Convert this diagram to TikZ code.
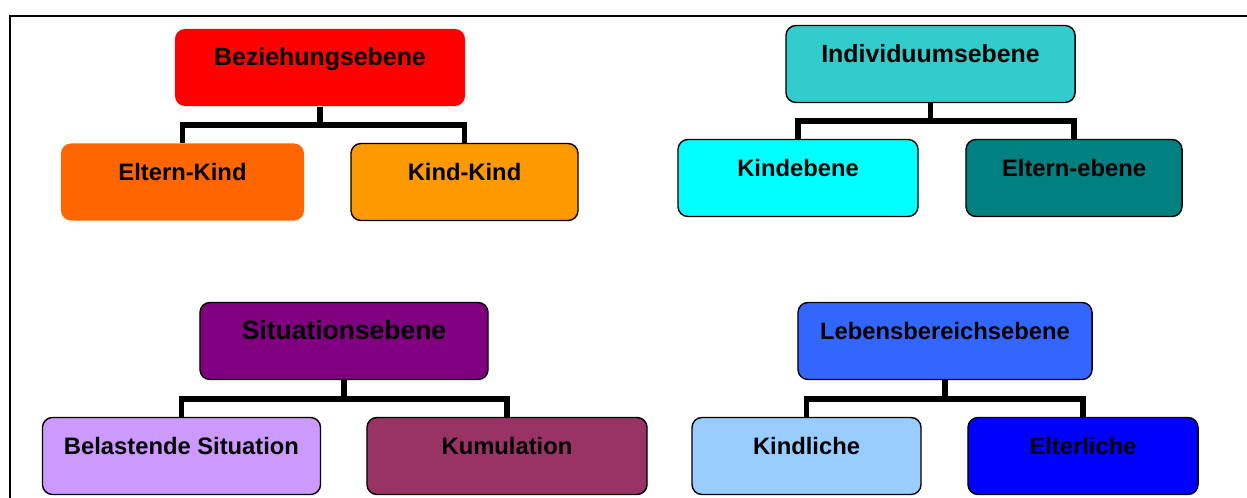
\documentclass[tikz,border=0pt]{standalone}
\usepackage{fontspec}
\setmainfont{Liberation Sans}
\definecolor{bezred}{HTML}{FF0000}
\definecolor{ekorange}{HTML}{FF6600}
\definecolor{kkorange}{HTML}{FF9900}
\definecolor{indteal}{HTML}{33CCCC}
\definecolor{kindcyan}{HTML}{00FFFF}
\definecolor{eltteal}{HTML}{008080}
\definecolor{sitpurple}{HTML}{800080}
\definecolor{bellilac}{HTML}{CC99FF}
\definecolor{kumplum}{HTML}{993366}
\definecolor{lebblue}{HTML}{3366FF}
\definecolor{kindlblue}{HTML}{99CCFF}
\definecolor{elterlblue}{HTML}{0000FF}

\begin{document}
\begin{tikzpicture}[x=0.025cm, y=-0.025cm,
    box/.style={rectangle, rounded corners=0.25cm, draw=black, line width=1pt,
      inner sep=0pt, text height=0.92cm, text depth=1.005cm,
      font=\fontsize{16.9}{19}\selectfont\bfseries},
    headbox/.style={box, font=\fontsize{17.7}{20}\selectfont\bfseries},
    conn/.style={line width=3.6pt}]
    \useasboundingbox (0,0) rectangle (1247,498);

    % Frame
    \draw[line width=1.4pt] (10.3,498) -- (10.3,16.3) -- (1247,16.3);

    % Beziehungsebene
    \node[headbox, fill=bezred, draw=none, minimum width=7.25cm] (bez) at (320,67.5) {Beziehungsebene};
    \node[box, fill=ekorange, draw=none, minimum width=6.075cm] (ek) at (182.5,182) {Eltern-Kind};
    \node[box, fill=kkorange, minimum width=5.675cm] (kk) at (464.5,182) {Kind-Kind};

    % Individuumsebene
    \node[headbox, fill=indteal, minimum width=7.225cm] (ind) at (930.5,64) {Individuumsebene};
    \node[box, fill=kindcyan, minimum width=6cm] (kinde) at (798,178) {Kindebene};
    \node[box, fill=eltteal, minimum width=5.4cm] (elt) at (1074,178) {Eltern-ebene};

    % Situationsebene
    \node[headbox, fill=sitpurple, minimum width=7.2cm,
      font=\fontsize{18.8}{21}\selectfont\bfseries] (sit) at (344,341) {Situationsebene};
    \node[box, fill=bellilac, minimum width=6.95cm] (bel) at (181.5,456) {Belastende Situation};
    \node[box, fill=kumplum, minimum width=7cm] (kum) at (507,456) {Kumulation};

    % Lebensbereichsebene
    \node[box, fill=lebblue, minimum width=7.35cm] (leb) at (945,341) {Lebensbereichsebene};
    \node[box, fill=kindlblue, minimum width=5.725cm] (kindl) at (806.5,456) {Kindliche};
    \node[box, fill=elterlblue, minimum width=5.75cm] (elterl) at (1083,456) {Elterliche};

    % Connectors
    \coordinate (bezjoint) at (320,125);
    \coordinate (indjoint) at (930.5,121);
    \coordinate (sitjoint) at (344,399);
    \coordinate (lebjoint) at (945,399);
    \draw[conn] (bez.south) -- ([yshift=-1.8pt]bezjoint);
    \draw[conn] (ek.north) |- (bezjoint) -| (kk.north);
    \draw[conn] (ind.south) -- ([yshift=-1.8pt]indjoint);
    \draw[conn] (kinde.north) |- (indjoint) -| (elt.north);
    \draw[conn] (sit.south) -- ([yshift=-1.8pt]sitjoint);
    \draw[conn] (bel.north) |- (sitjoint) -| (kum.north);
    \draw[conn] (leb.south) -- ([yshift=-1.8pt]lebjoint);
    \draw[conn] (kindl.north) |- (lebjoint) -| (elterl.north);

  \end{tikzpicture}
\end{document}
